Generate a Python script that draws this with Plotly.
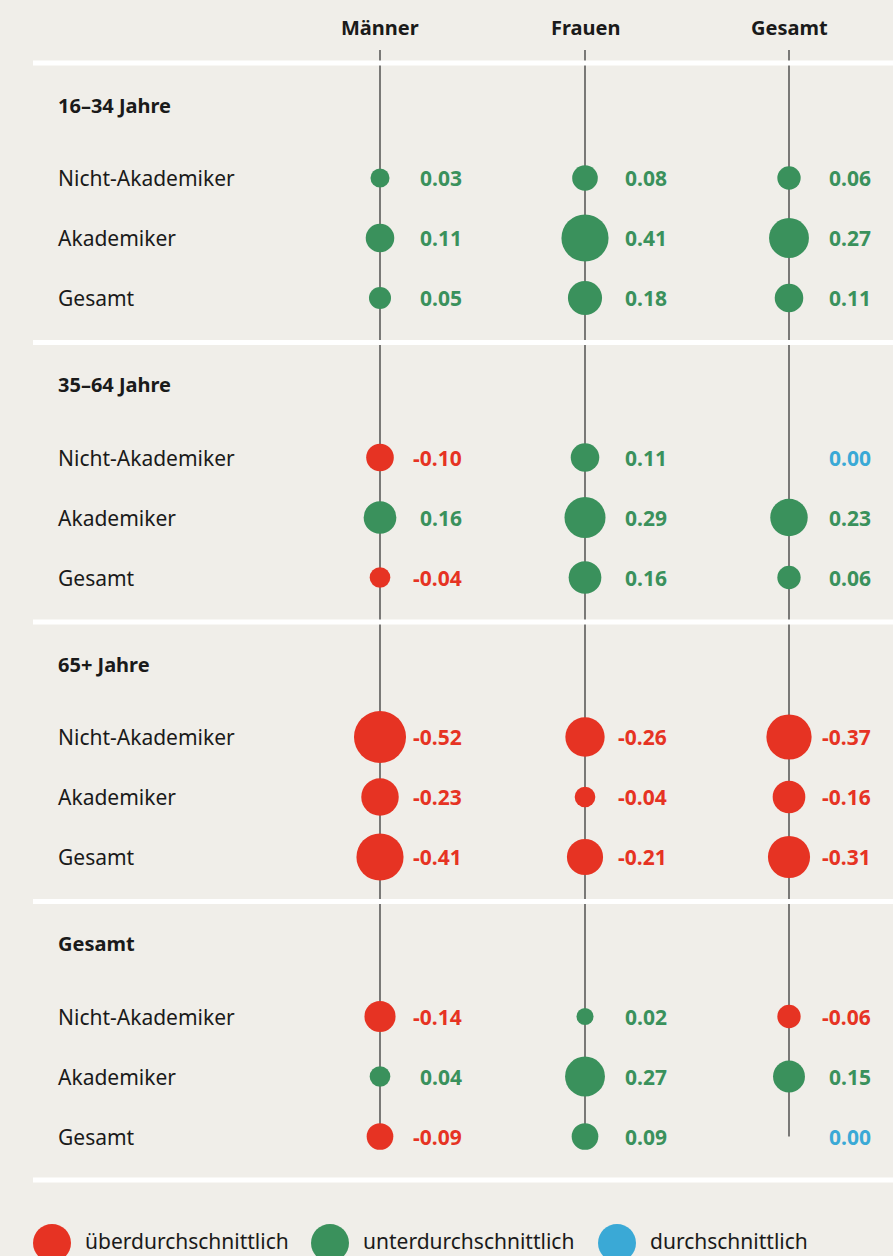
import plotly.graph_objects as go

# --- data -----------------------------------------------------------------
groups = ["16–34 Jahre", "35–64 Jahre", "65+ Jahre", "Gesamt"]
subgroups = ["Nicht-Akademiker", "Akademiker", "Gesamt"]
columns = ["Männer", "Frauen", "Gesamt"]

maenner = [0.03, 0.11, 0.05, -0.10, 0.16, -0.04, -0.52, -0.23, -0.41, -0.14, 0.04, -0.09]
frauen = [0.08, 0.41, 0.18, 0.11, 0.29, 0.16, -0.26, -0.04, -0.21, 0.02, 0.27, 0.09]
gesamt = [0.06, 0.27, 0.11, 0.00, 0.23, 0.06, -0.37, -0.16, -0.31, -0.06, 0.15, 0.00]

legend_labels = ["überdurchschnittlich", "unterdurchschnittlich", "durchschnittlich"]

# --- style ----------------------------------------------------------------
W, H = 893, 1256
BG = "#f0eee9"
RED, GREEN, BLUE = "#e63323", "#3a915c", "#3aa9d6"
INK = "#1a1a1a"
FONT = "Noto Sans"

COL_X = [380, 585, 789]
GROUP_Y0, GROUP_STEP = 105, 279.5
ROW_OFFSETS = [73, 133, 193]
LABEL_X = 56


def color_for(v):
    if v < 0:
        return RED
    if v > 0:
        return GREEN
    return BLUE


def size_for(v):
    # bubble diameter grows with sqrt of magnitude, plus a small base
    return 0 if v == 0 else 8.6 + 60.2 * abs(v) ** 0.5


row_y = []
for g in range(len(groups)):
    gy = GROUP_Y0 + g * GROUP_STEP
    for off in ROW_OFFSETS:
        row_y.append(gy + off)

fig = go.Figure()
shapes = []
annotations = []

# vertical guide lines
for x in COL_X:
    shapes.append(dict(type="line", x0=x, x1=x, y0=50, y1=row_y[-1],
                       line=dict(color="#3a3a3a", width=1.3), layer="below"))

# white separators
sep_y = [GROUP_Y0 + g * GROUP_STEP - 42 for g in range(len(groups))] + [1180]
for y in sep_y:
    shapes.append(dict(type="line", x0=33, x1=W, y0=y, y1=y,
                       line=dict(color="white", width=5), layer="above"))

# column headers
for x, name in zip(COL_X, columns):
    annotations.append(dict(x=x, y=27, text=f"<b>{name}</b>", showarrow=False,
                            xanchor="center", yanchor="middle",
                            font=dict(size=20, color=INK, family=FONT)))

# group headers and row labels
for g, name in enumerate(groups):
    gy = GROUP_Y0 + g * GROUP_STEP
    annotations.append(dict(x=LABEL_X, y=gy, text=f"<b>{name}</b>", showarrow=False,
                            xanchor="left", yanchor="middle",
                            font=dict(size=20, color=INK, family=FONT)))
    for i, sub in enumerate(subgroups):
        annotations.append(dict(x=LABEL_X, y=gy + ROW_OFFSETS[i], text=sub,
                                showarrow=False, xanchor="left", yanchor="middle",
                                font=dict(size=21, color=INK, family=FONT)))

# bubbles and values
for x, vals in zip(COL_X, [maenner, frauen, gesamt]):
    fig.add_trace(go.Scatter(
        x=[x] * len(vals), y=row_y, mode="markers",
        marker=dict(size=[size_for(v) for v in vals],
                    color=[color_for(v) for v in vals], line=dict(width=0), opacity=1),
        hoverinfo="skip", showlegend=False,
    ))
    for v, y in zip(vals, row_y):
        annotations.append(dict(x=x + 84, y=y, text=f"<b>{v:.2f}</b>", showarrow=False,
                                xanchor="right", yanchor="middle",
                                font=dict(size=21, color=color_for(v), family=FONT)))

# legend
leg_x = [52, 330, 617]
leg_colors = [RED, GREEN, BLUE]
fig.add_trace(go.Scatter(
    x=leg_x, y=[1243] * 3, mode="markers",
    marker=dict(size=38, color=leg_colors, line=dict(width=0)),
    hoverinfo="skip", showlegend=False, cliponaxis=True,
))
for x, lab in zip(leg_x, legend_labels):
    annotations.append(dict(x=x + 31, y=1241, text=lab, showarrow=False,
                            xanchor="left", yanchor="middle",
                            font=dict(size=21, color=INK, family=FONT)))

fig.update_layout(
    width=W, height=H,
    margin=dict(l=0, r=0, t=0, b=0),
    paper_bgcolor=BG, plot_bgcolor=BG,
    xaxis=dict(range=[0, W], visible=False, fixedrange=True),
    yaxis=dict(range=[H, 0], visible=False, fixedrange=True),
    shapes=shapes, annotations=annotations,
)

fig.write_html("out.html", config={"displayModeBar": False},
               post_script="document.body.style.margin='0';document.body.style.background='%s';" % BG)
